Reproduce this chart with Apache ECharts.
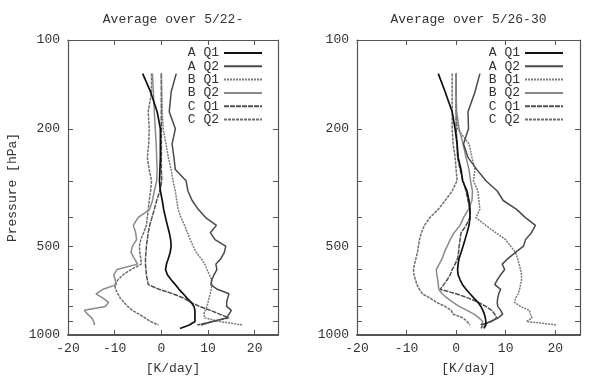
<!DOCTYPE html>
<html>
<head>
<meta charset="utf-8">
<script src="https://cdn.jsdelivr.net/npm/echarts@6/dist/echarts.min.js"></script>
<style>html,body{margin:0;padding:0;background:#fff}#c{width:604px;height:380px}</style>
</head>
<body>
<div id="c"></div>
<script>
// Pressure levels (hPa)
var P = [130,150,175,200,225,250,275,300,325,350,375,400,425,450,475,500,525,550,575,600,625,650,675,700,725,750,775,800,825,850,875,900,925,950];
var seriesNames = ['A Q1','A Q2','B Q1','B Q2','C Q1','C Q2'];
var titles = ['Average over 5/22-','Average over 5/26-30'];
var xTicks = [-20,-10,0,10,20];
var pTicks = [100,200,300,400,500,600,700,800,900,1000];
var pLabels = [100,200,500,1000];

// Left panel (K/day)
var L_AQ1 = [-4.0,-2.3,-0.9,-0.2,-0.2,-0.2,-0.3,-0.4,-0.2,0.2,0.5,0.9,1.3,1.7,2.0,2.1,1.9,1.5,1.1,0.9,1.3,2.1,3.0,3.8,4.7,5.5,6.4,7.0,7.2,7.2,7.2,7.2,6.0,4.0];
var L_AQ2 = [3.2,2.1,1.7,3.0,2.3,2.7,3.0,5.3,5.7,6.6,7.9,9.5,11.8,10.5,11.5,13.8,13.5,12.8,11.7,11.9,11.3,10.8,10.6,12.0,14.5,14.2,14.0,14.0,15.0,14.5,14.0,11.0,8.5,null];
var L_BQ1 = [0.0,0.1,0.2,0.4,1.0,1.5,2.1,2.5,3.0,3.3,3.6,4.2,5.0,5.6,6.2,6.8,7.5,8.5,9.3,9.8,10.3,10.8,10.8,10.7,10.5,10.2,10.0,9.8,9.4,9.1,9.3,12.5,17.5,null];
var L_BQ2 = [-1.9,-1.7,-1.5,-1.3,-1.1,-1.0,-0.9,-1.0,-1.5,-1.9,-2.5,-5.0,-6.0,-5.5,-5.3,-6.2,-6.5,-5.8,-5.1,-9.5,-10.2,-9.9,-9.6,-12.5,-14.0,-12.5,-11.3,-12.0,-16.5,-15.8,-14.9,-14.5,-14.3,null];
var L_CQ1 = [0,0,0,0,0,0,0,0.1,-0.3,-1.0,-1.5,-2.0,-2.5,-2.8,-3.0,-3.2,-3.3,-3.4,-3.4,-3.3,-3.2,-3.0,-2.8,-0.5,2.5,4.8,6.3,8.2,10.5,12.5,14.5,11.0,7.7,null];
var L_CQ2 = [-2.1,-2.1,-2.8,-2.6,-2.7,-3.0,-2.6,-2.1,-2.3,-2.6,-2.8,-3.0,-3.2,-3.8,-4.4,-4.7,-4.6,-4.4,-4.3,-6.5,-8.2,-9.3,-10.0,-9.8,-9.3,-8.8,-8.0,-7.2,-6.2,-4.8,-3.5,-2.3,-0.6,null];

// Right panel (K/day)
var R_AQ1 = [-3.6,-2.2,-0.8,-0.2,0.2,0.4,1.0,1.3,2.2,2.6,2.8,2.8,2.6,2.2,1.8,1.4,1.0,0.6,0.4,0.3,0.4,0.8,1.3,2.0,2.8,3.6,4.4,5.0,5.4,5.7,5.9,6.0,6.0,5.6];
var R_AQ2 = [4.8,3.8,2.4,2.5,1.5,2.4,4.2,6.0,8.3,9.5,12.2,14.0,16.0,15.2,14.0,13.6,12.0,10.5,9.3,9.8,9.0,8.3,7.8,9.0,8.6,8.4,8.3,8.4,9.0,9.4,8.5,7.0,5.0,null];
var R_BQ1 = [0,0,0,0.3,2.6,3.2,3.8,3.5,4.4,4.6,4.8,4.0,6.0,8.0,10.0,11.0,12.0,12.4,12.7,13.0,13.2,13.2,13.0,12.8,12.5,12.0,11.8,13.0,14.8,15.0,15.3,14.2,20.4,null];
var R_BQ2 = [0,0,0.1,0.6,1.4,2.0,2.6,2.9,3.3,3.2,2.5,1.5,0.8,-0.4,-1.2,-1.8,-2.4,-2.8,-3.4,-4.0,-3.9,-3.7,-3.6,-3.5,-2.8,-1.8,-0.6,0.6,2.2,3.6,4.6,5.4,5.0,null];
var R_CQ1 = [0,0,0,0,0.2,0.3,0.8,1.4,2.0,2.4,2.8,2.8,2.0,1.0,0.8,0.6,0.5,0.3,-0.2,-0.8,-1.2,-1.8,-2.5,-3.2,0.0,2.5,4.5,6.0,7.2,7.8,8.2,7.0,5.5,5.0];
var R_CQ2 = [-0.8,-0.8,-0.8,-0.8,-0.6,-0.2,0.0,0.2,-0.8,-2.2,-3.6,-5.3,-6.4,-7.0,-7.4,-7.6,-7.8,-8.1,-8.4,-8.6,-8.5,-8.2,-7.9,-7.4,-6.8,-5.2,-4.0,-2.2,-1.0,-0.6,1.4,2.2,2.8,null];

var panels = [
  [L_AQ1, L_AQ2, L_BQ1, L_BQ2, L_CQ1, L_CQ2],
  [R_AQ1, R_AQ2, R_BQ1, R_BQ2, R_CQ1, R_CQ2]
];

var styles = [
  {color:'#111', width:1.7, type:'solid'},
  {color:'#4a4a4a', width:1.5, type:'solid'},
  {color:'#7a7a7a', width:1.5, type:[2,1]},
  {color:'#8a8a8a', width:1.5, type:'solid'},
  {color:'#505050', width:1.5, type:[5,1]},
  {color:'#6e6e6e', width:1.5, type:[3,1]}
];

var FONT = 'Liberation Mono';
var grids = [
  {left:68, top:40, width:210, height:298},
  {left:357, top:40, width:223, height:298}
];
var lg10 = function(v){ return Math.log(v)/Math.LN10; };
var tickPos = pTicks.map(lg10);
var labelPos = pLabels.map(lg10);
var fmtP = function(v){ return String(Math.round(Math.pow(10, v))); };

var xAxes = [], yAxes = [], series = [], legends = [], graphics = [];
grids.forEach(function(g, k){
  function xAxis(pos){
    return {type:'value', gridIndex:k, min:-20, max:25, interval:10, position:pos,
      splitLine:{show:false},
      axisLine:{show:true, onZero:false, lineStyle:{color:'#555', width: pos === 'bottom' ? 2 : 1.2}},
      axisTick:{show:true, inside:true, length:5, customValues:xTicks, lineStyle:{color:'#555'}},
      axisLabel:{show: pos === 'bottom', customValues:xTicks, margin:7, fontFamily:FONT, fontSize:13, color:'#333'},
      name: pos === 'bottom' ? '[K/day]' : '', nameLocation:'middle', nameGap:27,
      nameTextStyle:{fontFamily:FONT, fontSize:13, color:'#333'}};
  }
  xAxes.push(xAxis('bottom'), xAxis('top'));

  function yAxis(pos){
    return {type:'value', gridIndex:k, min:2, max:3, inverse:true, position:pos,
      splitLine:{show:false},
      axisLine:{show:true, onZero:false, lineStyle:{color:'#555', width:1.2}},
      axisTick:{show:true, inside:true, length:5, customValues:tickPos, lineStyle:{color:'#555'}},
      axisLabel:{show: pos === 'left', customValues:labelPos, margin:8, fontFamily:FONT, fontSize:13, color:'#333', formatter:fmtP},
      name: (pos === 'left' && k === 0) ? 'Pressure [hPa]' : '', nameLocation:'middle', nameGap:49,
      nameTextStyle:{fontFamily:FONT, fontSize:13, color:'#333'}};
  }
  yAxes.push(yAxis('left'), yAxis('right'));

  panels[k].forEach(function(vals, i){
    series.push({
      type:'line', name:seriesNames[i], xAxisIndex:2*k, yAxisIndex:2*k,
      symbol:'none', showSymbol:false, animation:false, silent:true,
      lineStyle:{color:styles[i].color, width:styles[i].width, type:styles[i].type},
      itemStyle:{color:styles[i].color},
      data:P.map(function(p, j){ return vals[j] == null ? [null, null] : [vals[j], lg10(p)]; }),
      z: 10 - i
    });
  });

  legends.push({
    data:seriesNames, orient:'vertical', align:'right',
    right: k === 0 ? 341 : 40, top:46.5, padding:0,
    itemWidth:38, itemHeight:8, itemGap:0.3, selectedMode:false,
    itemStyle:{opacity:0},
    textStyle:{fontFamily:FONT, fontSize:13, color:'#333', lineHeight:13}
  });

  graphics.push({
    type:'text', x: g.left + g.width/2, y: 20,
    style:{text:titles[k], textAlign:'center', textVerticalAlign:'middle',
      font:'13px "' + FONT + '"', fill:'#333'}
  });
});

var chart = echarts.init(document.getElementById('c'), null, {renderer:'canvas'});
chart.setOption({
  backgroundColor:'#fff',
  animation:false,
  grid:grids,
  xAxis:xAxes,
  yAxis:yAxes,
  legend:legends,
  graphic:graphics,
  series:series
});
</script>
</body>
</html>
